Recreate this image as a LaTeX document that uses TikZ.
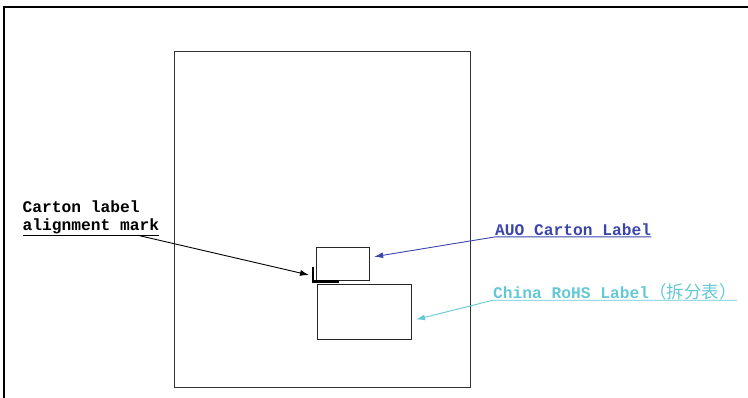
\documentclass[tikz,border=0pt]{standalone}
\usepackage{fontspec}
\newfontfamily\lblfont{Liberation Mono}
\newfontfamily\cjk{Noto Sans CJK SC}
\usetikzlibrary{arrows.meta,positioning,calc}
\definecolor{auoblue}{RGB}{60,70,170}
\definecolor{rohscyan}{RGB}{100,200,215}

\begin{document}
\begin{tikzpicture}[x=1pt, y=-1pt,
  box/.style={draw=black!85, line width=1.2pt, inner sep=0pt, anchor=north west},
  frame/.style={draw=black!80, line width=1.4pt},
  lbl/.style={font=\lblfont\bfseries\fontsize{16.25}{17.3}\selectfont, inner sep=0pt, anchor=base west},
  ptr/.style={-{Latex[length=9pt,width=6pt]}, line width=0.9pt}
]
\useasboundingbox (0,0) rectangle (748,397);
% outer frame, runs off the page
\draw[line width=2pt] (4,407) -- (4,7) -- (758,7);

\node[box, frame, minimum width=296pt, minimum height=336pt] (carton) at (174,51) {};
\node[box, minimum width=53pt, minimum height=33pt] (auo) at (316,247) {};
\node[box, minimum width=94pt, minimum height=55pt] (china) at (317,284) {};

% alignment mark
\draw[line width=2.4pt] (313,267) -- (313,281.5) -- (339,281.5);
\coordinate (markPt) at (309,275);

\node[lbl] (alignTop) at (22.5,212.7) {Carton label};
\node[lbl, text depth=5pt] (alignTxt) at (22.5,230) {alignment mark};
\node[lbl, text depth=1.7pt, text=auoblue] (auoTxt) at (495,235) {AUO Carton Label};
\node[lbl, text depth=2pt, text=rohscyan] (chinaTxt) at (493,298)
  {China RoHS Label{\cjk\mdseries\fontsize{17.5}{17.5}\selectfont（拆分表）}};

\draw[line width=0.9pt] (alignTxt.south west) -- (alignTxt.south east);
\draw[ptr] ($(alignTxt.south west)!0.84!(alignTxt.south east)$) -- (markPt);
\draw[ptr, auoblue, shorten >=4pt] (auoTxt.south east) -- (auoTxt.south west) -- (auo.14);
\draw[ptr, rohscyan, shorten >=4pt] (chinaTxt.south east) -- (chinaTxt.south west) -- (china.-10);
\end{tikzpicture}
\end{document}
